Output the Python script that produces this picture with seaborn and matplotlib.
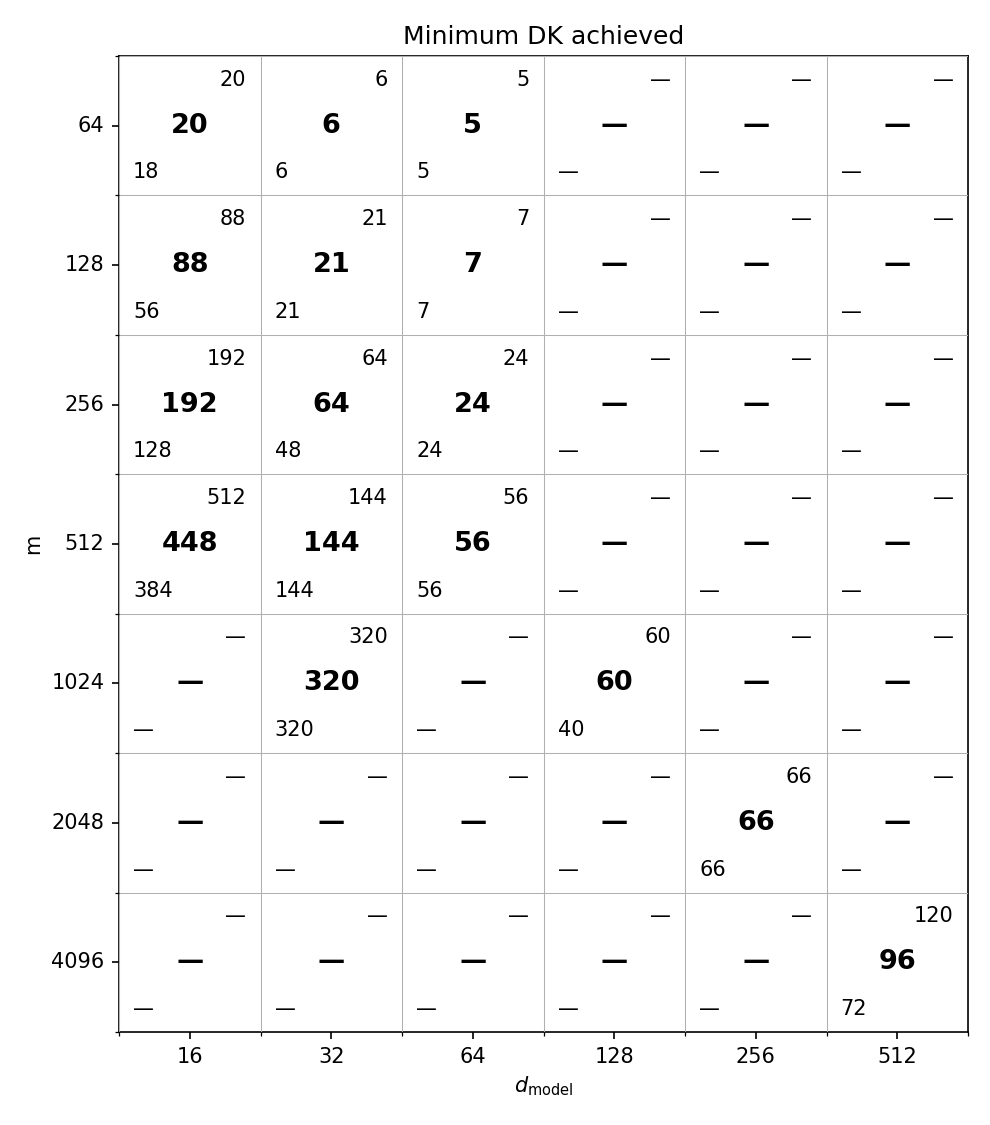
import numpy as np
import pandas as pd
import matplotlib
matplotlib.use("Agg")
import matplotlib.pyplot as plt
import seaborn as sns
from matplotlib.colors import ListedColormap

m_values = [64, 128, 256, 512, 1024, 2048, 4096]
d_model = [16, 32, 64, 128, 256, 512]

# center (achieved), upper (top-right) and lower (bottom-left) values; None = dash
center_vals = [
    [20, 6, 5, None, None, None],
    [88, 21, 7, None, None, None],
    [192, 64, 24, None, None, None],
    [448, 144, 56, None, None, None],
    [None, 320, None, 60, None, None],
    [None, None, None, None, 66, None],
    [None, None, None, None, None, 96],
]
upper_vals = [
    [20, 6, 5, None, None, None],
    [88, 21, 7, None, None, None],
    [192, 64, 24, None, None, None],
    [512, 144, 56, None, None, None],
    [None, 320, None, 60, None, None],
    [None, None, None, None, 66, None],
    [None, None, None, None, None, 120],
]
lower_vals = [
    [18, 6, 5, None, None, None],
    [56, 21, 7, None, None, None],
    [128, 48, 24, None, None, None],
    [384, 144, 56, None, None, None],
    [None, 320, None, 40, None, None],
    [None, None, None, None, 66, None],
    [None, None, None, None, None, 72],
]

def fmt(v):
    return "\u2014" if v is None else str(v)

fig = plt.figure(figsize=(6.6, 7.5), dpi=150)
ax = fig.add_axes([0.1202, 0.0827, 0.8576, 0.8675])

df = pd.DataFrame(np.zeros((len(m_values), len(d_model))), index=m_values, columns=d_model)
sns.heatmap(df, ax=ax, cmap=ListedColormap(["white"]), cbar=False, annot=False)

for j in range(len(m_values)):
    for i in range(len(d_model)):
        ax.text(i + 0.5, j + 0.5, fmt(center_vals[j][i]), ha="center", va="center",
                fontsize=13, fontweight="bold")
        ax.text(i + 0.9, j + 0.17, fmt(upper_vals[j][i]), ha="right", va="center",
                fontsize=10)
        ax.text(i + 0.1, j + 0.835, fmt(lower_vals[j][i]), ha="left", va="center",
                fontsize=10)

for s in ax.spines.values():
    s.set_visible(True)
    s.set_linewidth(0.8)
    s.set_color("black")

ax.set_xticks(np.arange(len(d_model)) + 0.5)
ax.set_xticklabels([str(d) for d in d_model], rotation=0)
ax.set_yticks(np.arange(len(m_values)) + 0.5)
ax.set_yticklabels([str(m) for m in m_values], rotation=0, va="center")
ax.set_xticks(np.arange(len(d_model) + 1), minor=True)
ax.set_yticks(np.arange(len(m_values) + 1), minor=True)
ax.tick_params(which="major", length=3.5, width=0.8, labelsize=10)
ax.tick_params(which="minor", length=2, width=0.6)
ax.grid(which="minor", color="#b0b0b0", linewidth=0.5)
ax.grid(which="major", visible=False)
ax.set_axisbelow(False)

ax.set_xlabel(r"$d_{\mathrm{model}}$", fontsize=10)
ax.set_ylabel("m", fontsize=10)
ax.set_title("Minimum DK achieved", fontsize=12)

fig.savefig("out.png", dpi=150)
